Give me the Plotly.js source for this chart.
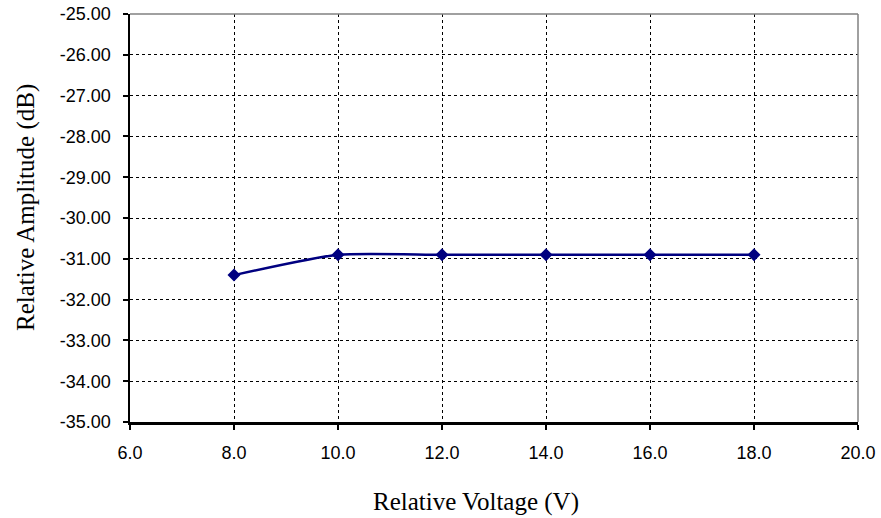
<!DOCTYPE html>
<html><head><meta charset="utf-8">
<script src="https://cdn.plot.ly/plotly-3.0.1.min.js"></script>
<style>body{margin:0;background:#fff}#c{width:881px;height:518px}</style>
</head><body><div id="c"></div>
<script>
const voltage = [8, 10, 12, 14, 16, 18];
const amplitude = [-31.4, -30.9, -30.9, -30.9, -30.9, -30.9];
const xTicks = [6, 8, 10, 12, 14, 16, 18, 20];
const yTicks = [-35, -34, -33, -32, -31, -30, -29, -28, -27, -26, -25];
const xTitle = 'Relative Voltage (V)';
const yTitle = 'Relative Amplitude (dB)';

const trace = {
  x: voltage, y: amplitude, type: 'scatter', mode: 'lines+markers',
  line: {color: '#000080', width: 2.5, shape: 'spline', smoothing: 0.6},
  marker: {symbol: 'diamond', size: 10, color: '#000080'},
  cliponaxis: false
};
const tickFont = {family: 'Liberation Sans, Arial', size: 18, color: '#000'};
const titleFont = {family: 'Liberation Serif, Times New Roman', size: 25, color: '#000'};
const layout = {
  width: 881, height: 518,
  margin: {l: 130, r: 23, t: 14, b: 96},
  paper_bgcolor: '#fff', plot_bgcolor: '#fff',
  showlegend: false,
  xaxis: {
    range: [6, 20], tickvals: xTicks, ticktext: xTicks.map(v => v.toFixed(1)),
    tickfont: tickFont, ticks: 'outside', ticklen: 5, tickcolor: '#000', tickwidth: 2,
    ticklabelstandoff: 8,
    showline: true, linecolor: '#000', linewidth: 2.5, mirror: false,
    showgrid: true, gridcolor: '#000', griddash: 'dot', gridwidth: 1,
    zeroline: false
  },
  yaxis: {
    range: [-35, -25], tickvals: yTicks, ticktext: yTicks.map(v => v.toFixed(2)),
    tickfont: tickFont, ticks: 'outside', ticklen: 5, tickcolor: '#000', tickwidth: 2,
    ticklabelstandoff: 8,
    showline: true, linecolor: '#000', linewidth: 2.5,
    showgrid: true, gridcolor: '#000', griddash: 'dot', gridwidth: 1,
    zeroline: false
  },
  annotations: [
    {text: xTitle, xref: 'paper', yref: 'paper', x: 0.475, y: -0.196, xanchor: 'center', yanchor: 'middle', showarrow: false, font: titleFont},
    {text: yTitle, xref: 'paper', yref: 'paper', x: -0.1429, y: 0.527, xanchor: 'center', yanchor: 'middle', showarrow: false, textangle: -90, font: titleFont}
  ],
  shapes: [
    {type: 'line', xref: 'paper', yref: 'paper', x0: 0, x1: 1, y0: 1, y1: 1, line: {color: '#808080', width: 1.5}},
    {type: 'line', xref: 'paper', yref: 'paper', x0: 1, x1: 1, y0: 0, y1: 1, line: {color: '#808080', width: 1.5}}
  ]
};
Plotly.newPlot('c', [trace], layout, {staticPlot: true});
</script>
</body></html>
